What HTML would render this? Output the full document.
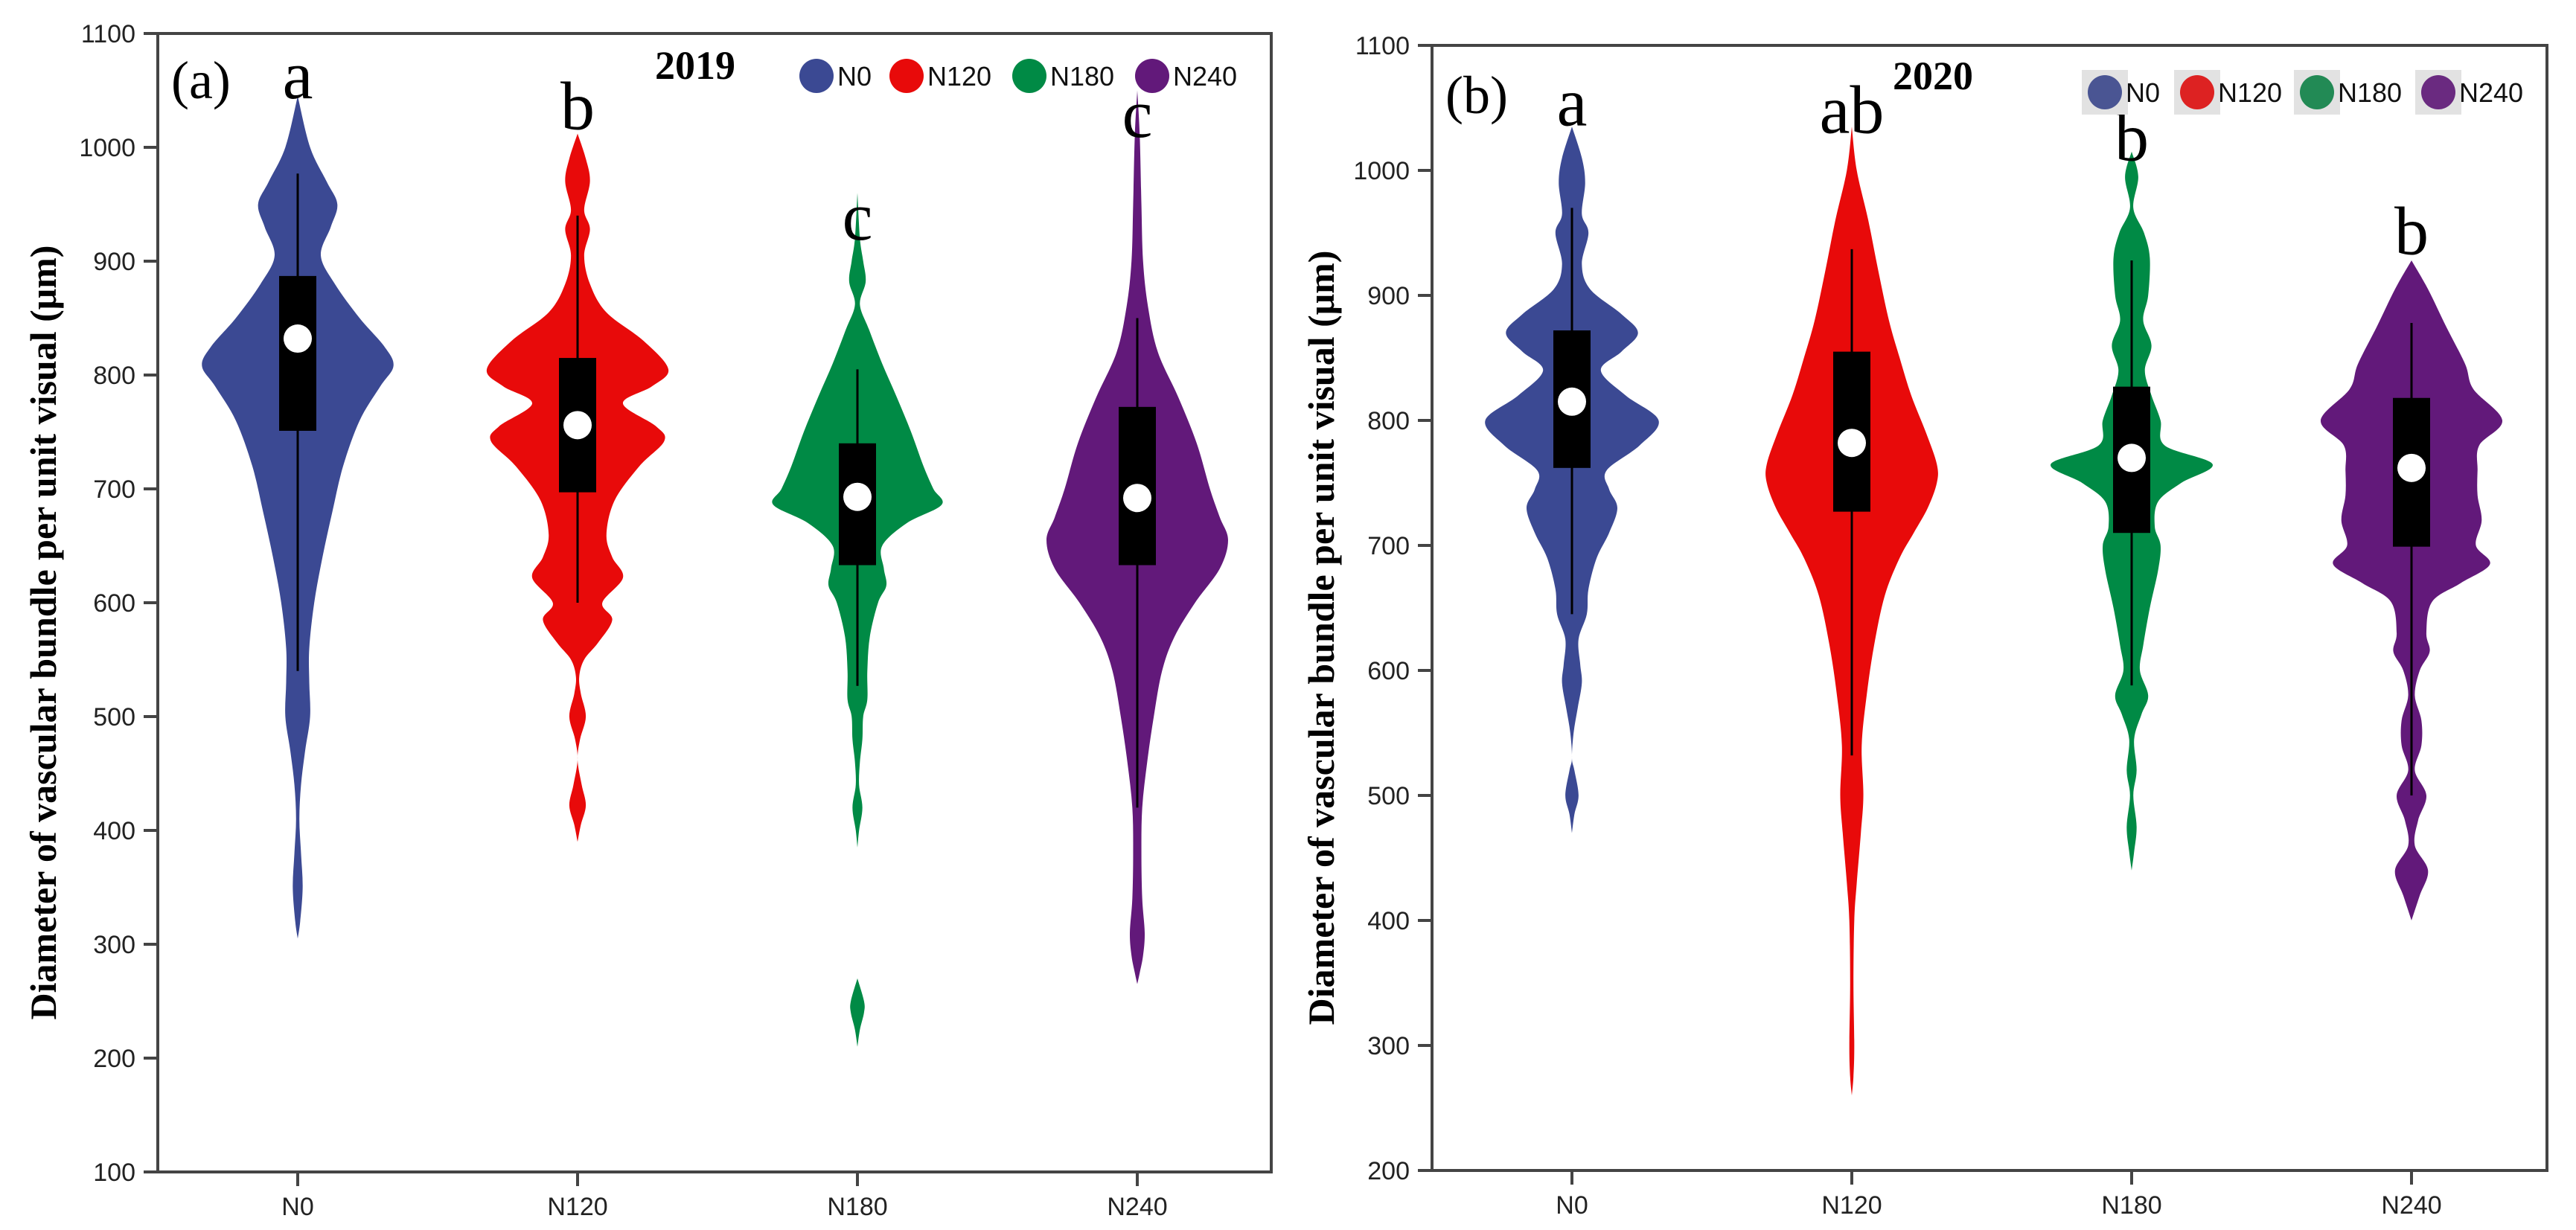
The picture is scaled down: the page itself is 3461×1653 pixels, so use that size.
<!DOCTYPE html>
<html><head><meta charset="utf-8"><style>
html,body{margin:0;padding:0;background:#fff;}
svg{display:block;}
.tick{font-family:"Liberation Sans",sans-serif;font-size:34px;fill:#222;}
.ttl{font-family:"Liberation Serif",serif;font-weight:bold;font-size:50px;fill:#000;}
.let{font-family:"Liberation Serif",serif;font-size:92px;fill:#000;}
.pan{font-family:"Liberation Serif",serif;font-size:72px;fill:#000;}
.yr{font-family:"Liberation Serif",serif;font-weight:bold;font-size:54px;fill:#000;}
.leg{font-family:"Liberation Sans",sans-serif;font-size:36px;fill:#111;}
</style></head><body>
<svg id="chart" width="3461" height="1653" viewBox="0 0 3461 1653" xmlns="http://www.w3.org/2000/svg"></svg>
<script>
// ---------- data ----------
const categories = ["N0","N120","N180","N240"];
const colorsA = ["#3b4993","#e80a0a","#008a45","#62197a"];
const colorsB = ["#3b4993","#e80a0a","#008a45","#62197a"];
const legendColorsB = ["#4a5593","#dd2222","#228a55","#6a2a80"];
// panel a (2019) density profiles: [value, relative density]; null splits into separate pieces
const aN0 = [[1045,0],[1000,15],[970,35],[950,48],[930,40],[905,28],[880,45],[850,75],[825,105],[808,116],[790,100],[760,75],[720,55],[680,42],[640,30],[600,20],[560,14],[530,14],[500,15],[470,9],[440,4],[410,2],[380,4],[350,6],[320,3],[305,0]];
const aN120 = [[1012,0],[990,10],[970,15],[945,8],[928,15],[905,8],[880,15],[855,35],[830,80],[805,110],[790,90],[775,55],[755,95],[742,105],[720,75],[690,45],[660,35],[640,42],[622,55],[600,30],[585,42],[565,25],[550,8],[535,2],[520,4],[500,10],[480,3],[462,0],[440,5],[422,10],[405,4],[390,0]];
const aN180 = [[960,0],[920,3],[900,7],[882,10],[862,3],[840,14],[810,30],[780,48],[750,65],[720,80],[700,92],[686,102],[670,60],[650,30],[630,32],[615,35],[600,25],[570,15],[540,12],[515,12],[500,7],[480,6],[460,3],[440,2],[420,6],[400,2],[385,0],null,[270,0],[250,8],[240,8],[225,3],[210,0]];
const aN240 = [[1050,0],[1010,3],[950,5],[900,7],[860,13],[820,25],[780,50],[740,72],[700,88],[675,100],[655,110],[630,100],[600,70],[570,45],[540,30],[500,20],[460,12],[420,6],[380,5],[340,6],[310,9],[290,7],[275,3],[265,0]];
// panel b (2020)
const bN0 = [[1035,0],[1010,12],[990,16],[965,12],[950,20],[925,12],[905,22],[885,60],[870,80],[855,60],[840,35],[820,65],[800,105],[780,82],[760,42],[745,45],[730,55],[710,45],[690,30],[665,20],[645,18],[625,8],[605,10],[590,12],[570,7],[550,2],[530,0],[520,3],[500,8],[485,3],[470,0]];
const bN120 = [[1035,0],[1000,6],[960,20],[920,32],[880,45],[850,58],[820,72],[790,90],[765,103],[750,103],[730,92],[710,75],[690,58],[660,40],[620,27],[580,18],[540,12],[500,14],[470,11],[430,6],[400,3],[350,2],[300,3],[275,2],[260,0]];
const bN180 = [[1015,0],[995,8],[970,2],[950,15],[930,22],[900,20],[880,14],[860,24],[840,16],[820,24],[800,35],[780,40],[765,98],[750,60],[735,32],[715,28],[700,35],[680,32],[650,22],[620,14],[600,10],[580,20],[565,12],[545,3],[520,6],[500,2],[475,6],[455,3],[440,0]];
const bN240 = [[928,0],[905,20],[875,42],[845,65],[825,75],[800,110],[780,82],[760,80],[740,80],[720,85],[700,78],[685,95],[670,60],[655,25],[630,18],[615,22],[600,10],[580,4],[560,12],[540,12],[520,4],[500,18],[480,8],[460,4],[440,20],[420,10],[400,0]];
// box stats: [whiskerLow, q1, median, q3, whiskerHigh]
const boxA = [[540,751,832,887,977],[600,697,756,815,940],[527,633,693,740,805],[420,633,692,772,850]];
const boxB = [[645,762,815,872,970],[532,727,782,855,937],[588,710,770,827,928],[500,699,762,818,878]];
const lettersA = ["a","b","c","c"];
const letterYA = [1043,1016,919,1009];
const lettersB = ["a","ab","b","b"];
const letterYB = [1036,1030,1008,933];
const ticksA = [100,200,300,400,500,600,700,800,900,1000,1100];
const ticksB = [200,300,400,500,600,700,800,900,1000,1100];

const NS="http://www.w3.org/2000/svg";
const svg=document.getElementById('chart');
function mk(tag,attrs,parent){const e=document.createElementNS(NS,tag);for(const k in attrs)e.setAttribute(k,attrs[k]);(parent||svg).appendChild(e);return e;}

function panel(opt){
  const g=mk('g',{});
  
  
  const L=opt.left,R=opt.right,T=opt.top,B=opt.bottom,ymin=opt.ymin,ymax=opt.ymax;
  const yS=v=>B-(v-ymin)/(ymax-ymin)*(B-T);
  const xS=i=>opt.cx0+i*opt.step;
  opt.profiles.forEach((prof,i)=>{
    const cx=xS(i);
    // split into pieces at null
    const pieces=[];let cur=[];
    prof.forEach(p=>{if(p===null){if(cur.length)pieces.push(cur);cur=[];}else cur.push(p);});
    if(cur.length)pieces.push(cur);
    function seg(arr,sign){
      let d='';
      for(let k=0;k<arr.length-1;k++){
        const p0=arr[Math.max(0,k-1)],p1=arr[k],p2=arr[k+1],p3=arr[Math.min(arr.length-1,k+2)];
        const c1=[p1[0]+(p2[0]-p0[0])/6,p1[1]+(p2[1]-p0[1])/6];
        const c2=[p2[0]-(p3[0]-p1[0])/6,p2[1]-(p3[1]-p1[1])/6];
        d+=` C${cx+sign*c1[0]},${c1[1]} ${cx+sign*c2[0]},${c2[1]} ${cx+sign*p2[0]},${p2[1]}`;
      }
      return d;
    }
    let d='';
    pieces.forEach(pc=>{
      const pts=pc.map(p=>[p[1]*opt.wscale,yS(p[0])]);
      const rev=pts.slice().reverse();
      d+=`M${cx+pts[0][0]},${pts[0][1]}`+seg(pts,1)+` L${cx-rev[0][0]},${rev[0][1]}`+seg(rev,-1)+'Z ';
    });
    const v=mk('path',{d:d,fill:opt.colors[i]},g);
    
    
    const bx=opt.boxes[i];
    const wl=mk('line',{x1:cx,x2:cx,y1:yS(bx[0]),y2:yS(bx[4]),stroke:'#000','stroke-width':3},g);
    
    
    const r=mk('rect',{x:cx-25,y:yS(bx[3]),width:50,height:yS(bx[1])-yS(bx[3]),fill:'#000'},g);
    
    
    const m=mk('circle',{cx:cx,cy:yS(bx[2]),r:19,fill:'#fff'},g);
    
    
    const t=mk('text',{x:cx,y:yS(opt.letterY[i]),'text-anchor':'middle',class:'let'},g);
    t.textContent=opt.letters[i];
    
    
  });
  const fr=mk('rect',{x:L,y:T,width:R-L,height:B-T,fill:'none',stroke:'#444','stroke-width':4},g);
  
  
  opt.ticks.forEach(v=>{
    const y=yS(v);
    const tl=mk('line',{x1:L-19,x2:L,y1:y,y2:y,stroke:'#444','stroke-width':4},g);
    
    
    const tx=mk('text',{x:L-30,y:y+12,'text-anchor':'end',class:'tick'},g);
    tx.textContent=v;
    
    
  });
  categories.forEach((c,i)=>{
    const x=xS(i);
    const tl=mk('line',{x1:x,x2:x,y1:B,y2:B+19,stroke:'#444','stroke-width':4},g);
    
    
    const tx=mk('text',{x:x,y:B+58,'text-anchor':'middle',class:'tick'},g);
    tx.textContent=c;
    
    
  });
  const yt=mk('text',{x:0,y:0,'text-anchor':'middle',class:'ttl',transform:`translate(${opt.titleX},${(T+B)/2+40}) rotate(-90)`},g);
  yt.textContent='Diameter of vascular bundle per unit visual (μm)';
  
  
  const pl=mk('text',{x:L+18,y:opt.panelY,class:'pan'},g);
  pl.textContent=opt.panel;
  
  
  const yr=mk('text',{x:opt.yearX,y:opt.yearY,class:'yr'},g);
  yr.textContent=opt.year;
  
  
  categories.forEach((c,i)=>{
    const lx=opt.legX[i];
    if(opt.legBg){
      const bg=mk('rect',{x:lx-31,y:opt.legY-30,width:62,height:60,fill:'#e2e2e2'},g);
      
      
    }
    const cc=mk('circle',{cx:lx,cy:opt.legY,r:23,fill:opt.legColors[i]},g);
    
    
    const lt=mk('text',{x:lx+28,y:opt.legY+13,class:'leg'},g);
    lt.textContent=c;
    
    
  });
}
panel({name:'panel-a-2019',left:212,right:1708,top:45,bottom:1575,ymin:100,ymax:1100,cx0:400,step:376,
  profiles:[aN0,aN120,aN180,aN240],boxes:boxA,colors:colorsA,letters:lettersA,letterY:letterYA,ticks:ticksA,
  titleX:75,panel:'(a)',panelY:132,year:'2019',yearX:880,yearY:106,legX:[1097,1218,1383,1548],legY:102,legColors:colorsA,legBg:false,wscale:1.109});
panel({name:'panel-b-2020',left:1924,right:3422,top:61,bottom:1573,ymin:200,ymax:1100,cx0:2112,step:376,
  profiles:[bN0,bN120,bN180,bN240],boxes:boxB,colors:colorsB,letters:lettersB,letterY:letterYB,ticks:ticksB,
  titleX:1792,panel:'(b)',panelY:152,year:'2020',yearX:2543,yearY:120,legX:[2828,2952,3113,3276],legY:124,legColors:legendColorsB,legBg:true,wscale:1.109});
</script>
</body></html>
